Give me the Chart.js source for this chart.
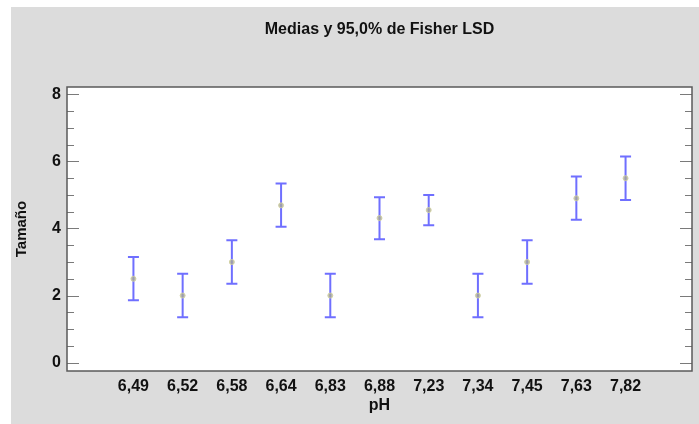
<!DOCTYPE html>
<html>
<head>
<meta charset="utf-8">
<script src="https://cdn.jsdelivr.net/npm/chart.js@4.4.1/dist/chart.umd.min.js"></script>
<style>
    html, body { margin: 0; padding: 0; background: #ffffff; }
    #wrap {
        position: absolute;
        left: 11px;
        top: 7px;
        width: 688px;
        height: 417px;
        background: #dcdcdc;
    }
</style>
</head>
<body>
<div id="wrap"><canvas id="chartLSD"></canvas></div>

<script>
// =========================
// DATA
// =========================
const phLabels = ["6,49", "6,52", "6,58", "6,64", "6,83", "6,88", "7,23", "7,34", "7,45", "7,63", "7,82"];
const means    = [2.50, 2.00, 3.00, 4.69, 2.00, 4.31, 4.55, 2.00, 3.00, 4.90, 5.50];
const lower    = [1.86, 1.35, 2.35, 4.05, 1.35, 3.68, 4.10, 1.35, 2.35, 4.26, 4.85];
const upper    = [3.15, 2.65, 3.65, 5.34, 2.65, 4.93, 5.00, 2.65, 3.65, 5.55, 6.15];
const yTicks   = [0, 2, 4, 6, 8];

const FONT = "'Liberation Sans', Arial, sans-serif";

// =========================
// PLUGINS
// =========================

// white plot background
const plotBgPlugin = {
    id: "plotBg",
    beforeDraw(chart) {
        const a = chart.chartArea;
        chart.ctx.save();
        chart.ctx.fillStyle = "#ffffff";
        chart.ctx.fillRect(a.left, a.top, a.right - a.left, a.bottom - a.top);
        chart.ctx.restore();
    }
};

// frame, inward ticks on both sides, title over the plot
const framePlugin = {
    id: "frame",
    afterDraw(chart) {
        const ctx = chart.ctx;
        const a = chart.chartArea;
        const y = chart.scales.y;

        ctx.save();

        ctx.strokeStyle = "#7a7a7a";
        ctx.lineWidth = 1;
        for (let v = 0; v <= 8.001; v += 0.5) {
            const py = Math.round(y.getPixelForValue(v)) + 0.5;
            const major = Math.abs(v % 2) < 0.001;
            const len = major ? 12 : 7;
            ctx.beginPath();
            ctx.moveTo(a.left, py);
            ctx.lineTo(a.left + len, py);
            ctx.moveTo(a.right, py);
            ctx.lineTo(a.right - len, py);
            ctx.stroke();
        }

        ctx.strokeStyle = "#5a5a5a";
        ctx.lineWidth = 1.5;
        ctx.strokeRect(a.left, a.top, a.right - a.left, a.bottom - a.top);

        ctx.fillStyle = "#111111";
        ctx.font = "bold 16px " + FONT;
        ctx.textAlign = "center";
        ctx.textBaseline = "middle";
        ctx.fillText("Medias y 95,0% de Fisher LSD", (a.left + a.right) / 2, 23);

        ctx.restore();
    }
};

// vertical bars with caps from lower to upper
const errorBarPlugin = {
    id: "errorBars",
    beforeDatasetsDraw(chart) {
        const ctx = chart.ctx;
        const x = chart.scales.x;
        const y = chart.scales.y;

        ctx.save();
        ctx.strokeStyle = "rgba(50, 50, 255, 0.7)";
        ctx.lineWidth = 2;
        for (let i = 0; i < means.length; i++) {
            const px = x.getPixelForValue(i);
            const pTop = y.getPixelForValue(upper[i]);
            const pBot = y.getPixelForValue(lower[i]);
            ctx.beginPath();
            ctx.moveTo(px, pTop);
            ctx.lineTo(px, pBot);
            ctx.moveTo(px - 5.5, pTop);
            ctx.lineTo(px + 5.5, pTop);
            ctx.moveTo(px - 5.5, pBot);
            ctx.lineTo(px + 5.5, pBot);
            ctx.stroke();
        }
        ctx.restore();
    }
};

// =========================
// CHART
// =========================
document.addEventListener("DOMContentLoaded", function () {

    const ctx = document.getElementById("chartLSD");

    new Chart(ctx, {

        type: "scatter",

        data: {
            datasets: [{
                label: "Medias",
                data: means.map((m, i) => ({ x: i, y: m })),
                pointRadius: 2.5,
                pointBackgroundColor: "rgba(170, 170, 150, 0.75)",
                pointBorderColor: "rgba(210, 210, 160, 0.9)",
                pointBorderWidth: 1
            }]
        },

        options: {
            responsive: true,
            maintainAspectRatio: false,
            animation: false,
            layout: {
                padding: { top: 80, right: 7, left: 0, bottom: 9 }
            },
            plugins: {
                legend: { display: false },
                tooltip: { enabled: false }
            },
            scales: {
                x: {
                    type: "linear",
                    min: -1.35,
                    max: 11.35,
                    grid: { display: false, drawTicks: false },
                    border: { display: false },
                    afterBuildTicks: s => { s.ticks = phLabels.map((_, i) => ({ value: i })); },
                    afterFit: s => { s.height = 44; },
                    ticks: {
                        padding: 6,
                        color: "#111111",
                        font: { family: FONT, size: 16, weight: "bold" },
                        callback: v => phLabels[v]
                    },
                    title: {
                        display: true,
                        text: "pH",
                        color: "#111111",
                        padding: 0,
                        font: { family: FONT, size: 16, weight: "bold" }
                    }
                },
                y: {
                    min: -0.25,
                    max: 8.22,
                    grid: { display: false, drawTicks: false },
                    border: { display: false },
                    afterBuildTicks: s => { s.ticks = yTicks.map(v => ({ value: v })); },
                    afterFit: s => { s.width = 56; },
                    ticks: {
                        padding: 6,
                        color: "#111111",
                        font: { family: FONT, size: 16, weight: "bold" }
                    },
                    title: {
                        display: true,
                        text: "Tamaño",
                        color: "#111111",
                        padding: { top: 2, bottom: 0 },
                        font: { family: FONT, size: 15, weight: "bold" }
                    }
                }
            }
        },

        plugins: [plotBgPlugin, errorBarPlugin, framePlugin]

    });

});
</script>
</body>
</html>
